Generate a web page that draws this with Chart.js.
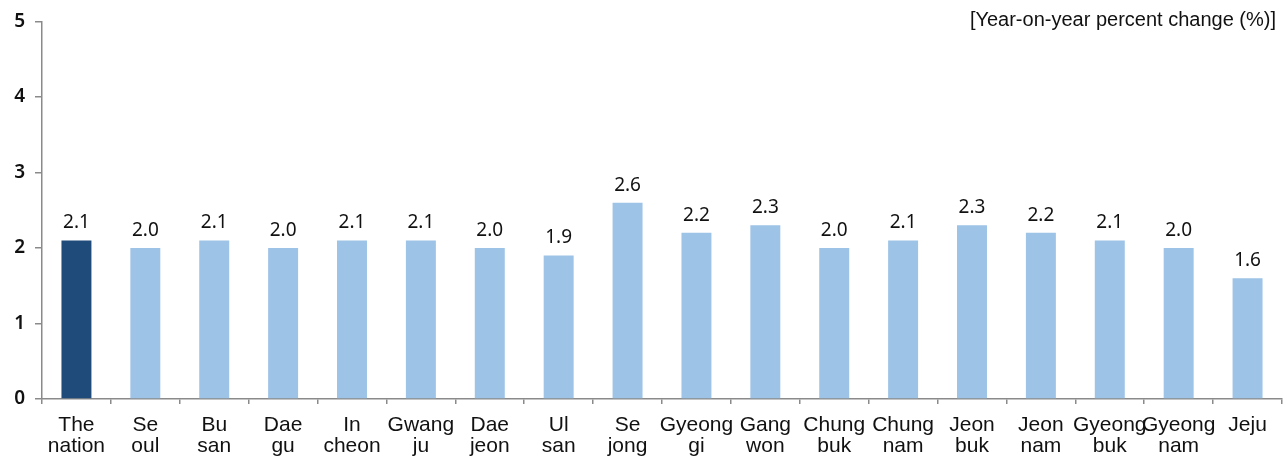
<!DOCTYPE html>
<html>
<head>
<meta charset="utf-8">
<script src="https://cdn.jsdelivr.net/npm/chart.js@4/dist/chart.umd.min.js"></script>
<style>
html,body{margin:0;padding:0;background:#fff;}
#wrap{position:relative;width:1287px;height:459px;}
</style>
</head>
<body>
<div id="wrap"><canvas id="c" width="1287" height="459"></canvas></div>
<script>
const categories = [
  ['The','nation'],['Se','oul'],['Bu','san'],['Dae','gu'],['In','cheon'],['Gwang','ju'],
  ['Dae','jeon'],['Ul','san'],['Se','jong'],['Gyeong','gi'],['Gang','won'],['Chung','buk'],
  ['Chung','nam'],['Jeon','buk'],['Jeon','nam'],['Gyeong','buk'],['Gyeong','nam'],['Jeju']
];
const values = [2.1, 2.0, 2.1, 2.0, 2.1, 2.1, 2.0, 1.9, 2.6, 2.2, 2.3, 2.0, 2.1, 2.3, 2.2, 2.1, 2.0, 1.6];
const yTicks = [0, 1, 2, 3, 4, 5];
const unitLabel = '[Year-on-year percent change (%)]';

const barColors = values.map((v, i) => i === 0 ? '#1F4B7A' : '#9DC3E6');

const labelPlugin = {
  id: 'valueLabels',
  afterDatasetsDraw(chart) {
    const ctx = chart.ctx;
    const meta = chart.getDatasetMeta(0);
    ctx.save();
    ctx.font = '19px "Noto Sans", "DejaVu Sans", sans-serif';
    ctx.fillStyle = '#111';
    ctx.textAlign = 'center';
    ctx.textBaseline = 'bottom';
    meta.data.forEach((bar, i) => {
      ctx.fillText(values[i].toFixed(1), bar.x, bar.y - 8);
    });
    ctx.restore();
  }
};

const unitPlugin = {
  id: 'unitLabel',
  afterDraw(chart) {
    const ctx = chart.ctx;
    ctx.save();
    ctx.font = '20px "Liberation Sans", Arial, sans-serif';
    ctx.fillStyle = '#111';
    ctx.textAlign = 'right';
    ctx.textBaseline = 'middle';
    ctx.fillText(unitLabel, 1276, 20);
    ctx.restore();
  }
};

new Chart(document.getElementById('c'), {
  type: 'bar',
  data: {
    labels: categories,
    datasets: [{
      data: values,
      backgroundColor: barColors,
      borderWidth: 0,
      barPercentage: 0.87,
      categoryPercentage: 0.5
    }]
  },
  options: {
    responsive: false,
    animation: false,
    layout: { padding: { top: 19, right: 5, left: 0, bottom: 0 } },
    plugins: { legend: { display: false }, tooltip: { enabled: false } },
    scales: {
      x: {
        offset: true,
        grid: { display: true, drawOnChartArea: false, offset: true, tickLength: 5, color: '#8a8a8a', lineWidth: 1.5 },
        border: { display: true, color: '#8a8a8a', width: 1.5 },
        ticks: {
          color: '#111',
          font: { family: '"Liberation Sans", Arial, sans-serif', size: 21, lineHeight: 1.0 },
          padding: 11,
          maxRotation: 0,
          autoSkip: false
        },
        afterFit(scale) { scale.height = 60; }
      },
      y: {
        min: 0, max: 5,
        afterBuildTicks(scale) { scale.ticks = yTicks.map(v => ({ value: v })); },
        grid: { display: true, drawOnChartArea: false, tickLength: 7, color: '#8a8a8a', lineWidth: 1.5 },
        border: { display: true, color: '#8a8a8a', width: 1.5 },
        ticks: {
          color: '#111',
          font: { family: '"Noto Sans", "DejaVu Sans", sans-serif', size: 19, weight: '600' },
          padding: 10
        },
        afterFit(scale) { scale.width = 42; }
      }
    }
  },
  plugins: [labelPlugin, unitPlugin]
});
</script>
</body>
</html>
